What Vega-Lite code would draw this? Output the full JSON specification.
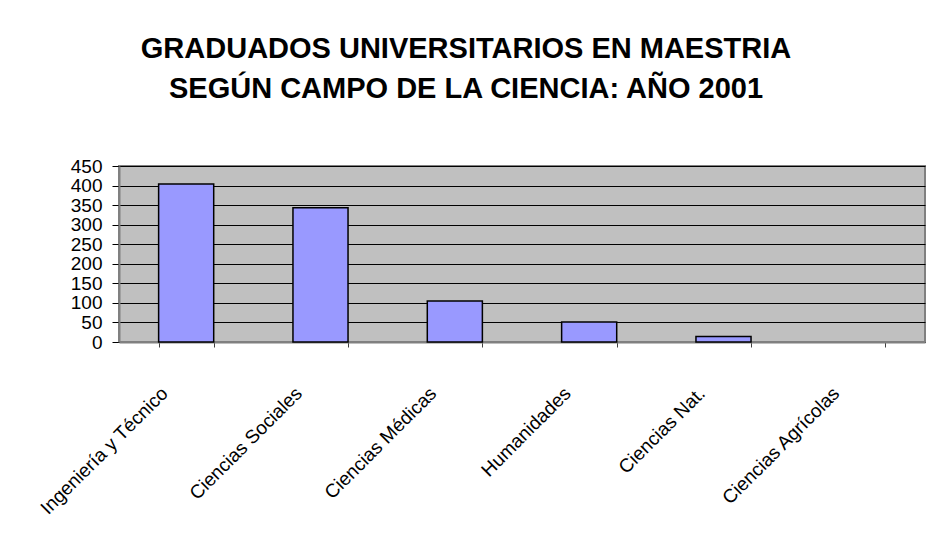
{
  "$schema": "https://vega.github.io/schema/vega-lite/v6.json",
  "width": 806,
  "height": 176,
  "autosize": {"type": "none"},
  "padding": {"left": 119, "top": 166, "right": 4, "bottom": 193},
  "background": "white",
  "title": {
    "text": ["GRADUADOS UNIVERSITARIOS EN MAESTRIA", "SEGÚN CAMPO DE LA CIENCIA: AÑO 2001"],
    "font": "Liberation Sans",
    "fontSize": 29,
    "fontWeight": "bold",
    "color": "black",
    "lineHeight": 40,
    "anchor": "middle",
    "frame": "group",
    "baseline": "alphabetic",
    "offset": 30,
    "dx": -56
  },
  "data": {
    "values": [
      {"campo": "Ingeniería y Técnico", "graduados": 404},
      {"campo": "Ciencias Sociales", "graduados": 343},
      {"campo": "Ciencias Médicas", "graduados": 105},
      {"campo": "Humanidades", "graduados": 51},
      {"campo": "Ciencias Nat.", "graduados": 14},
      {"campo": "Ciencias Agrícolas", "graduados": 0}
    ]
  },
  "mark": {"type": "bar", "fill": "#9999FF", "stroke": "black", "strokeWidth": 1.5},
  "encoding": {
    "x": {
      "field": "campo",
      "type": "nominal",
      "sort": null,
      "scale": {"paddingInner": 0.59, "paddingOuter": 0.295},
      "axis": {
        "title": null,
        "tickBand": "extent",
        "labelAngle": -45,
        "labelAlign": "right",
        "labelBaseline": "middle",
        "labelFont": "Liberation Sans",
        "labelFontSize": 19,
        "labelColor": "black",
        "labelPadding": 43,
        "labelOffset": -22,
        "labelOverlap": false,
        "tickSize": 5,
        "tickColor": "#404040",
        "domainColor": "#808080",
        "domainWidth": 2,
        "grid": false
      }
    },
    "y": {
      "field": "graduados",
      "type": "quantitative",
      "scale": {"domain": [0, 450], "nice": false},
      "axis": {
        "title": null,
        "values": [0, 50, 100, 150, 200, 250, 300, 350, 400, 450],
        "labelFont": "Liberation Sans",
        "labelFontSize": 19,
        "labelColor": "black",
        "labelPadding": 10,
        "labelOverlap": false,
        "labelFlush": false,
        "tickSize": 7,
        "tickColor": "black",
        "domainColor": "#808080",
        "domainWidth": 2,
        "grid": true,
        "gridColor": "black",
        "gridWidth": 1,
        "gridOpacity": 1
      }
    },
    "strokeOpacity": {"condition": {"test": "datum.graduados == 0", "value": 0}, "value": 1}
  },
  "config": {
    "view": {"fill": "#C0C0C0", "stroke": "#808080", "strokeWidth": 2}
  }
}
